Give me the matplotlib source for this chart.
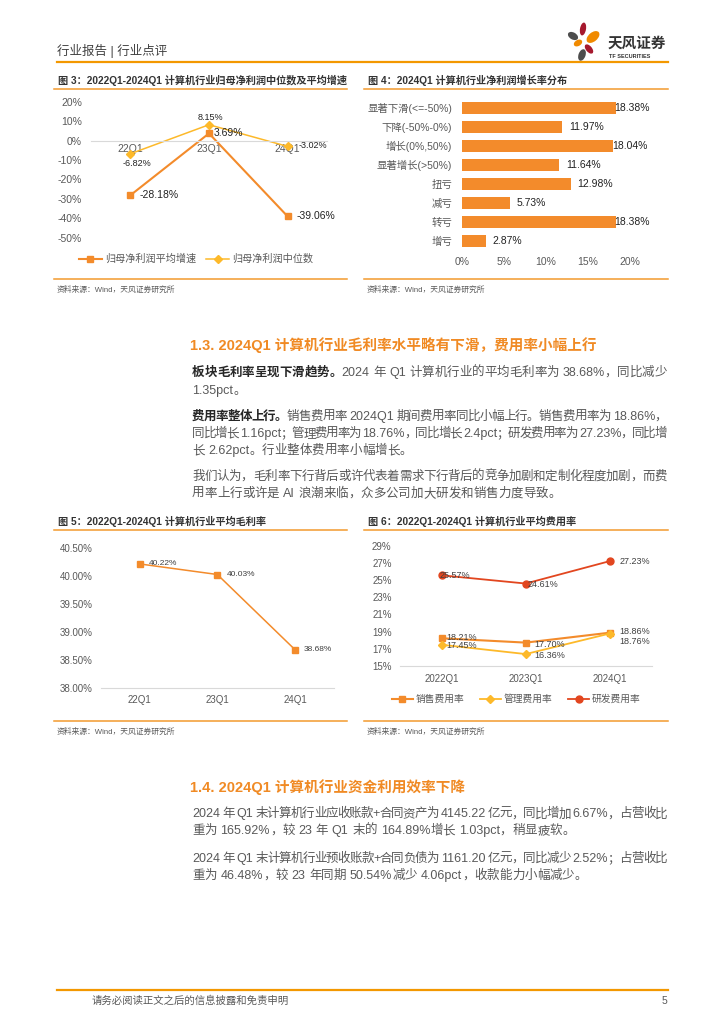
import numpy as np
import matplotlib
matplotlib.use('Agg')
import matplotlib.pyplot as plt
from matplotlib.patches import Ellipse
from matplotlib.font_manager import FontProperties
from matplotlib.ticker import FuncFormatter

plt.rcParams['font.family'] = ['Liberation Sans', 'Noto Sans CJK SC']
plt.rcParams['axes.unicode_minus'] = False

# chart 3: net profit growth
c3_quarters = ['22Q1', '23Q1', '24Q1']
c3_avg_growth = [-28.18, 3.69, -39.06]
c3_median = [-6.82, 8.15, -3.02]
c3_names = ['归母净利润平均增速', '归母净利润中位数']

# chart 4: net profit growth distribution
c4_cats = ['显著下滑(<=-50%)', '下降(-50%-0%)', '增长(0%,50%)', '显著增长(>50%)',
           '扭亏', '减亏', '转亏', '增亏']
c4_vals = [18.38, 11.97, 18.04, 11.64, 12.98, 5.73, 18.38, 2.87]

# chart 5: gross margin
c5_quarters = ['22Q1', '23Q1', '24Q1']
c5_gross = [40.22, 40.03, 38.68]

# chart 6: expense ratios
c6_quarters = ['2022Q1', '2023Q1', '2024Q1']
c6_sales = [18.21, 17.70, 18.86]
c6_admin = [17.45, 16.36, 18.76]
c6_rd = [25.57, 24.61, 27.23]
c6_names = ['销售费用率', '管理费用率', '研发费用率']

W, H = 724, 1024
ORANGE = '#F38B2B'
YELLOW = '#FDB92A'
RED = '#E2461F'
LINE = '#F39A2E'
TXT = '#404040'
GRAY = '#595959'
FAM = ['Liberation Sans', 'Noto Sans CJK SC']

fig = plt.figure(figsize=(W / 100, H / 100), dpi=100)
page = fig.add_axes([0, 0, 1, 1])
page.set_xlim(0, W)
page.set_ylim(H, 0)
page.axis('off')


def box(x0, y0, x1, y1):
    ax = fig.add_axes([x0 / W, 1 - y1 / H, (x1 - x0) / W, (y1 - y0) / H])
    ax.set_facecolor('none')
    for s in ax.spines.values():
        s.set_visible(False)
    return ax


def pct0(v, _):
    return f'{v:.0f}%'


# ---- header ----
page.text(57, 51, '行业报告 | 行业点评', fontsize=9, color=TXT, va='center')
page.plot([57, 668], [62, 62], color='#F39800', lw=1.6)
petals = [((583, 29), 6, 13, 10, '#A6192E'),
          ((593, 37), 9, 15, 50, '#F08A00'),
          ((573, 36), 7, 11, -60, '#4D4D4D'),
          ((578, 43), 6, 9, 60, '#F08A00'),
          ((589, 49), 6, 11, -40, '#A6192E'),
          ((582, 55), 7, 12, 20, '#4D4D4D')]
for c, w, h, a, col in petals:
    page.add_patch(Ellipse(c, w, h, angle=a, color=col, lw=0))
page.text(608, 44, '天风证券', fontsize=10.5, fontweight='bold', color='#333333', va='center')
page.text(609, 57, 'TF SECURITIES', fontsize=4, fontweight='bold', color='#333333', va='center')

# ---- chart titles, rules, sources ----
for x0, x1, y, title in [(54, 347, 80, '图 3：2022Q1-2024Q1 计算机行业归母净利润中位数及平均增速'),
                         (364, 668, 80, '图 4：2024Q1 计算机行业净利润增长率分布'),
                         (54, 347, 521, '图 5：2022Q1-2024Q1 计算机行业平均毛利率'),
                         (364, 668, 521, '图 6：2022Q1-2024Q1 计算机行业平均费用率')]:
    page.text(x0 + 4, y, title, fontsize=7.3, fontweight='bold', color='#333333', va='center')
    page.plot([x0, x1], [y + 9, y + 9], color=LINE, lw=1.1)
for x0, x1, y in [(54, 347, 279), (364, 668, 279), (54, 347, 721), (364, 668, 721)]:
    page.plot([x0, x1], [y, y], color=LINE, lw=1.1)
    page.text(x0 + 3, y + 11, '资料来源：Wind，天风证券研究所', fontsize=5.6, color=GRAY, va='center')

# ---- chart 3 ----
ax = box(91, 101.7, 327, 237.7)
x = np.arange(len(c3_quarters))
ax.plot(x, c3_avg_growth, color=ORANGE, lw=1.5, marker='s', ms=5, label=c3_names[0])
ax.plot(x, c3_median, color=YELLOW, lw=1.1, marker='D', ms=3.6, label=c3_names[1])
ax.set_xlim(-0.5, 2.5)
ax.set_ylim(-50, 20)
ax.set_yticks(np.arange(-50, 21, 10))
ax.yaxis.set_major_formatter(FuncFormatter(pct0))
ax.spines['bottom'].set_visible(True)
ax.spines['bottom'].set_position(('data', 0))
ax.spines['bottom'].set_color('#D9D9D9')
ax.set_xticks(x)
ax.set_xticklabels(c3_quarters)
ax.tick_params(length=0, labelsize=7.5, colors=GRAY)
ax.tick_params(axis='y', pad=6.5)
ax.tick_params(axis='x', pad=2.5)
off_avg = [(6.5, 0, 'left'), (3.5, 0, 'left'), (6.5, 0, 'left')]
off_med = [(5, -7, 'center'), (1, 5, 'center'), (8, 1, 'left')]
for xi, v, (dx, dy, ha) in zip(x, c3_avg_growth, off_avg):
    ax.annotate(f'{v:.2f}%', (xi, v), xytext=(dx, dy), textcoords='offset points',
                ha=ha, va='center', fontsize=7.5, color='#222222')
for xi, v, (dx, dy, ha) in zip(x, c3_median, off_med):
    ax.annotate(f'{v:.2f}%', (xi, v), xytext=(dx, dy), textcoords='offset points',
                ha=ha, va='center', fontsize=6.5, color='#222222')
ax.legend(loc='center', bbox_to_anchor=(196 / W, 1 - 259 / H), bbox_transform=fig.transFigure,
          ncol=2, frameon=False, fontsize=7.3, handlelength=2.3, handletextpad=0.3,
          columnspacing=1.0, labelcolor=GRAY)

# ---- chart 4 ----
ax = box(461.7, 98.2, 629.6, 250.5)
y = np.arange(len(c4_cats))
ax.barh(y, c4_vals, height=0.62, color=ORANGE)
ax.set_ylim(len(c4_cats) - 0.5, -0.5)
ax.set_xlim(0, 20)
ax.set_yticks(y)
ax.set_yticklabels(c4_cats)
ax.set_xticks(np.arange(0, 21, 5))
ax.xaxis.set_major_formatter(FuncFormatter(pct0))
ax.tick_params(length=0, labelsize=7.5, colors=GRAY)
ax.tick_params(axis='y', pad=7)
ax.tick_params(axis='x', pad=5)
for yi, v in zip(y, c4_vals):
    dx = -1 if v > 18 else 5
    ax.annotate(f'{v:.2f}%', (v, yi), xytext=(dx, 0), textcoords='offset points',
                ha='left', va='center', fontsize=7.5, color='#222222')

# ---- chart 5 ----
ax = box(100.7, 548.3, 334, 687.7)
x = np.arange(len(c5_quarters))
ax.plot(x, c5_gross, color=ORANGE, lw=1.1, marker='s', ms=4.6)
ax.set_xlim(-0.5, 2.5)
ax.set_ylim(38, 40.5)
ax.set_yticks(np.arange(38, 40.51, 0.5))
ax.yaxis.set_major_formatter(FuncFormatter(lambda v, _: f'{v:.2f}%'))
ax.spines['bottom'].set_visible(True)
ax.spines['bottom'].set_color('#D9D9D9')
ax.set_xticks(x)
ax.set_xticklabels(c5_quarters)
ax.tick_params(length=0, labelsize=7, colors=GRAY)
ax.tick_params(axis='y', pad=5.5)
ax.tick_params(axis='x', pad=5)
for xi, v in zip(x, c5_gross):
    ax.annotate(f'{v:.2f}%', (xi, v), xytext=(6.5, 0), textcoords='offset points',
                ha='left', va='center', fontsize=6, color=TXT)

# ---- chart 6 ----
ax = box(399.7, 546, 651.7, 665.7)
x = np.arange(len(c6_quarters))
ax.plot(x, c6_sales, color=ORANGE, lw=1.5, marker='s', ms=5, label=c6_names[0])
ax.plot(x, c6_admin, color=YELLOW, lw=1.3, marker='D', ms=4, label=c6_names[1])
ax.plot(x, c6_rd, color=RED, lw=1.3, marker='o', ms=5, label=c6_names[2])
ax.set_xlim(-0.5, 2.5)
ax.set_ylim(15, 29)
ax.set_yticks(np.arange(15, 30, 2))
ax.yaxis.set_major_formatter(FuncFormatter(pct0))
ax.spines['bottom'].set_visible(True)
ax.spines['bottom'].set_color('#D9D9D9')
ax.set_xticks(x)
ax.set_xticklabels(c6_quarters)
ax.tick_params(length=0, labelsize=7, colors=GRAY)
ax.tick_params(axis='y', pad=5.8)
ax.tick_params(axis='x', pad=6)
off_sales = [(3, 0.5), (6.5, -1), (7, 1)]
off_admin = [(3, -0.7), (6.5, -0.7), (7, -6)]
off_rd = [(-1.5, 0), (1.5, -1), (7, -0.6)]
for series, offs in [(c6_sales, off_sales), (c6_admin, off_admin), (c6_rd, off_rd)]:
    for xi, v, (dx, dy) in zip(x, series, offs):
        ax.annotate(f'{v:.2f}%', (xi, v), xytext=(dx, dy), textcoords='offset points',
                    ha='left', va='center', fontsize=6.5, color=TXT)
ax.legend(loc='center', bbox_to_anchor=(516 / W, 1 - 699 / H), bbox_transform=fig.transFigure,
          ncol=3, frameon=False, fontsize=7, handlelength=2.2, handletextpad=0.25,
          columnspacing=1.6, labelcolor=GRAY)

# ---- body text, justified line by line ----
renderer = fig.canvas.get_renderer()
BODY = 9
_adv = {}


def advance(tok, weight):
    key = (tok, weight)
    if key not in _adv:
        fp = FontProperties(family=FAM, size=BODY, weight=weight)
        def w(s):
            return renderer.get_text_width_height_descent(s, fp, ismath=False)[0]
        if tok == ' ':
            _adv[key] = w('n n') - w('nn')
        else:
            _adv[key] = w(tok * 2) - w(tok)
    return _adv[key]


def tokens(segs):
    out = []
    for text, wt, col in segs:
        run = ''
        for ch in text:
            if ch == ' ' or ord(ch) > 0x2E80:
                if run:
                    out.append((run, wt, col))
                    run = ''
                out.append((ch, wt, col))
            else:
                run += ch
        if run:
            out.append((run, wt, col))
    return out


def body_line(segs, y, x0=192, x1=667, justify=True):
    toks = tokens(segs)
    advs = [advance(t, wt) for t, wt, col in toks]
    gap = 0
    if justify and len(toks) > 1:
        gap = (x1 - x0 - sum(advs)) / (len(toks) - 1)
    cx = x0
    for (t, wt, col), a in zip(toks, advs):
        if t != ' ':
            page.text(cx, y, t, fontsize=BODY, fontweight=wt, color=col, va='center', ha='left')
        cx += a + gap


N = ('normal', GRAY)
B = ('bold', '#262626')


def seg(text, style=N):
    return (text, style[0], style[1])


page.text(190, 345, '1.3. 2024Q1 计算机行业毛利率水平略有下滑，费用率小幅上行',
          fontsize=10.5, fontweight='bold', color='#F08A24', va='center')
body_line([seg('板块毛利率呈现下滑趋势。', B), seg('2024 年 Q1 计算机行业的平均毛利率为 38.68%，同比减少')], 372.7)
body_line([seg('1.35pct。')], 391, justify=False)
body_line([seg('费用率整体上行。', B), seg('销售费用率 2024Q1 期间费用率同比小幅上行。销售费用率为 18.86%，')], 416.7)
body_line([seg('同比增长 1.16pct；管理费用率为 18.76%，同比增长 2.4pct；研发费用率为 27.23%，同比增')], 434)
body_line([seg('长 2.62pct。行业整体费用率小幅增长。')], 451, justify=False)
body_line([seg('我们认为，毛利率下行背后或许代表着需求下行背后的竞争加剧和定制化程度加剧，而费')], 476.7)
body_line([seg('用率上行或许是 AI 浪潮来临，众多公司加大研发和销售力度导致。')], 494, justify=False)

page.text(190, 787.3, '1.4. 2024Q1 计算机行业资金利用效率下降',
          fontsize=10.5, fontweight='bold', color='#F08A24', va='center')
body_line([seg('2024 年 Q1 末计算机行业应收账款+合同资产为 4145.22 亿元，同比增加 6.67%，占营收比')], 814.3)
body_line([seg('重为 165.92%，较 23 年 Q1 末的 164.89%增长 1.03pct，稍显疲软。')], 831, justify=False)
body_line([seg('2024 年 Q1 末计算机行业预收账款+合同负债为 1161.20 亿元，同比减少 2.52%；占营收比')], 859)
body_line([seg('重为 46.48%，较 23 年同期 50.54%减少 4.06pct，收款能力小幅减少。')], 876, justify=False)

# ---- footer ----
page.plot([57, 668], [990, 990], color='#F39800', lw=1.6)
page.text(92, 1001, '请务必阅读正文之后的信息披露和免责申明', fontsize=7.5, color=GRAY, va='center')
page.text(667, 1001, '5', fontsize=7.5, color=GRAY, va='center', ha='right')

fig.savefig('out.png', dpi=100)
